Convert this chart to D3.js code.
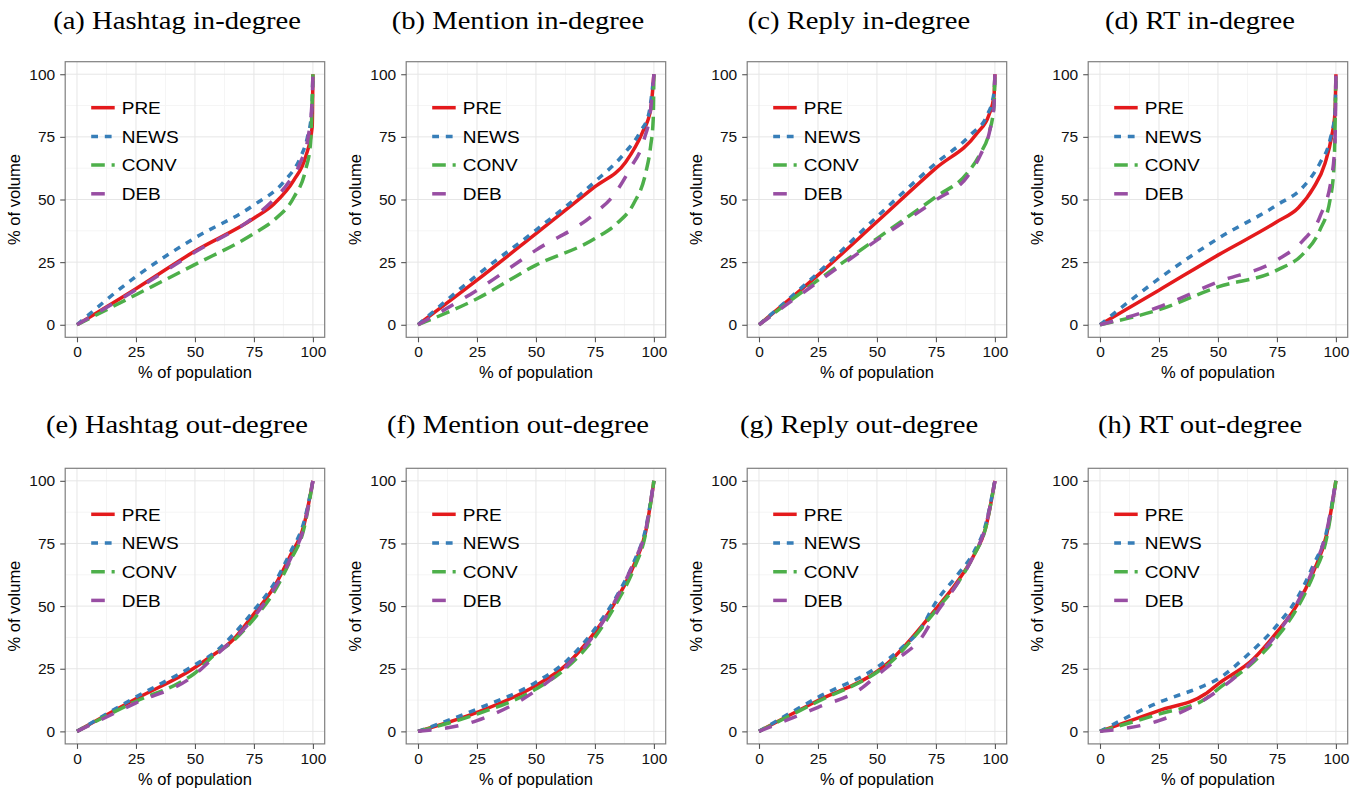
<!DOCTYPE html>
<html>
<head>
<meta charset="utf-8">
<script src="https://cdn.jsdelivr.net/npm/d3@7"></script>
<style>
  body { margin: 0; background: #fff; }
  .grid-major line { stroke: #e6e6e6; stroke-width: 1; }
  .grid-minor line { stroke: #f5f5f5; stroke-width: 1; }
  .tick-label { font-family: "Liberation Sans", Arial, sans-serif; font-size: 15.5px; fill: #111; }
  .axis-title { font-family: "Liberation Sans", Arial, sans-serif; font-size: 16.5px; fill: #000; }
  .panel-title { font-family: "Liberation Serif", "Times New Roman", serif; font-size: 26px; fill: #000; }
  .legend-label { font-family: "Liberation Sans", Arial, sans-serif; font-size: 17px; fill: #000; }
</style>
</head>
<body>
<div id="chart"></div>
<script>
// Названия панелей
const panelTitles = [
    '(a) Hashtag in-degree', '(b) Mention in-degree', '(c) Reply in-degree', '(d) RT in-degree',
    '(e) Hashtag out-degree', '(f) Mention out-degree', '(g) Reply out-degree', '(h) RT out-degree'
];

const seriesNames = ['PRE', 'NEWS', 'CONV', 'DEB'];
const seriesColors = ['#E41A1C', '#377EB8', '#4DAF4A', '#984EA3'];
const seriesDash = [null, '6.8,6.8', '13.6,6.8', '13.6,13.6'];

const xTicks = [0, 25, 50, 75, 100];
const yTicks = [0, 25, 50, 75, 100];
const minorTicks = [12.5, 37.5, 62.5, 87.5];

// Кривые Лоренца: [% населения, % объёма], порядок серий PRE, NEWS, CONV, DEB
const hashtagIn = [
    [[0,0],[25,14.4],[49.5,29.1],[75,42.5],[83.5,48.2],[92,57.8],[96.9,67],[99.7,79],[100,100]],
    [[0,0],[24.8,19.1],[49.5,34.4],[75,47.8],[87.7,57.1],[94.8,67],[97.6,74.5],[99.5,85],[100,100]],
    [[0,0],[25,12],[49.5,23.8],[75,36.4],[83.5,41.8],[92,51],[96.9,61.8],[99,72.5],[100,100]],
    [[0,0],[25,14],[50,29],[75,43],[84,50.5],[89.8,57],[94.8,65],[98,75],[99.7,90],[100,100]]
];
const mentionIn = [
    [[0,0],[25,17.8],[50,36.4],[75,55.1],[88,64.9],[95,76.5],[98.6,85.8],[100,100]],
    [[0,0],[25,19.8],[50,37.8],[75,57.1],[87.3,68.2],[94.3,77.2],[97.9,84.5],[100,100]],
    [[0,0],[25,10.4],[50,23.8],[75,34.4],[84.4,40.5],[91.5,48.5],[96.5,60.5],[98.6,71.2],[99.7,81.8],[100,100]],
    [[0,0],[25,13.8],[50,29.8],[75,44.5],[83,51.8],[90,62.5],[95.8,73.8],[98.6,85.8],[100,100]]
];
const replyIn = [
    [[0,0],[25,19.8],[50,41.1],[75,62.5],[92.5,76.5],[97.5,83.8],[99.6,91.2],[100,100]],
    [[0,0],[25,20.7],[50,43.1],[75,64.5],[89.7,75.8],[96.8,83.8],[99.6,92.5],[100,100]],
    [[0,0],[25,17.8],[50,34.4],[75,51.1],[88.3,60.5],[93.9,68.5],[97.5,76.5],[99.6,87.2],[100,100]],
    [[0,0],[25,17.1],[50,33.8],[75,49.8],[88.3,59.1],[93.9,67.8],[97.9,77.8],[99.6,87.2],[100,100]]
];
const rtIn = [
    [[0,0],[25,13.8],[50,27.8],[75,41.1],[84.1,46.7],[90.4,54.5],[95.4,64.5],[98.2,75.2],[99.6,84.5],[100,100]],
    [[0,0],[25,18.4],[50,34.4],[75,47.8],[86.2,55.1],[93.2,64.5],[97.5,73.8],[99.6,84.5],[100,100]],
    [[0,0],[25,6],[50,15.1],[75,21.8],[86.2,28.4],[93.2,37.8],[97.5,49.8],[99.2,63.2],[100,100]],
    [[0,0],[25,7.1],[50,17.1],[75,25.8],[86.2,33.8],[93.2,43.1],[98.2,59.1],[99.6,72.5],[100,100]]
];
const hashtagOut = [
    [[0,0],[24.8,12.9],[49.5,25.2],[55.2,28.9],[66.5,36.9],[75,46.9],[83.5,57.6],[90.5,70.3],[96.2,82.3],[100,100]],
    [[0,0],[24.8,13.6],[49.5,26.3],[59.4,32.3],[66.5,38.9],[75,48.3],[83.5,58.9],[90.5,71.6],[96.2,83.6],[100,100]],
    [[0,0],[24.8,11.9],[43.8,19.6],[49.5,22.9],[58,30.3],[66.5,36.3],[75,44.9],[83.5,55.6],[90.5,68.3],[96.2,80.9],[100,100]],
    [[0,0],[24.8,11.3],[49.5,22.3],[58,29.6],[75,45.6],[90.5,68.9],[96.2,81.6],[100,100]]
];
const mentionOut = [
    [[0,0],[25,7.6],[50,18.3],[63.2,26.9],[75,39.6],[84.4,52.9],[91.5,66.3],[96.5,79.6],[100,100]],
    [[0,0],[25,8.9],[50,19.6],[63.2,28.3],[75,40.9],[84.4,54.3],[91.5,67.6],[96.5,80.9],[100,100]],
    [[0,0],[25,6.9],[50,16.9],[63.2,25.6],[75,37.6],[84.4,51.6],[91.5,64.9],[96.5,78.9],[100,100]],
    [[0,0],[25,4.3],[50,16.3],[63.2,26.3],[75,38.9],[84.4,53.6],[91.5,67.6],[96.5,80.3],[100,100]]
];
const replyOut = [
    [[0,0],[25,12.3],[50,23.9],[55.8,28.3],[65.7,38.3],[75,48.9],[84,59.6],[91.1,70.3],[96,80.9],[100,100]],
    [[0,0],[25,13.6],[50,25.6],[60,32.9],[68.5,40.9],[75,51.6],[84,62.3],[91.1,71.6],[96,82.3],[100,100]],
    [[0,0],[25,11.9],[50,23.6],[55.8,27.6],[65.7,37.6],[75,48.3],[84,58.9],[91.1,70.3],[96,80.9],[100,100]],
    [[0,0],[25,9.6],[43,16.9],[50,22.3],[58.6,28.9],[68.5,36.9],[75,46.9],[84,58.9],[91.1,70.3],[96,81.6],[100,100]]
];
const rtOut = [
    [[0,0],[25,8.3],[44.6,14.9],[50,18.9],[65,28.9],[75,39.6],[83.4,50.3],[90.4,63.6],[96,78.3],[100,100]],
    [[0,0],[25,11.6],[42.5,17.6],[50,20.9],[62.3,30.3],[75,42.3],[83.4,52.9],[90.4,66.3],[96,79.6],[100,100]],
    [[0,0],[25,6.9],[44.6,12.9],[50,16.9],[65,27.6],[75,37.6],[83.4,48.9],[90.4,62.3],[96,76.9],[100,100]],
    [[0,0],[25,4.3],[42.5,11.6],[50,16.3],[65,28.3],[75,38.9],[83.4,50.9],[90.4,64.9],[96,79.6],[100,100]]
];

const panelData = [hashtagIn, mentionIn, replyIn, rtIn, hashtagOut, mentionOut, replyOut, rtOut];

// Размеры
const width = 1359, height = 790;
const panelW = 259.5, panelH = 275.6;
const colStep = 341, rowStep = 406.6;
const firstLeft = 65.2, firstTop = 61.7;

let svg = d3.select('#chart').append('svg')
    .attr('width', width).attr('height', height);

panelData.forEach((series, i) => {
    let col = i % 4, row = Math.floor(i / 4);
    let left = firstLeft + col * colStep;
    let top = firstTop + row * rowStep;

    let x = d3.scaleLinear().domain([-5, 105]).range([left, left + panelW]);
    let y = d3.scaleLinear().domain([-5, 105]).range([top + panelH, top]);

    let g = svg.append('g');

    // Заголовок панели (немного растянут по горизонтали, как в оригинале)
    g.append('text')
        .attr('class', 'panel-title')
        .attr('transform', `translate(${177 + col * colStep},${28.5 + row * 404}) scale(1.1,1)`)
        .attr('text-anchor', 'middle')
        .text(panelTitles[i]);

    // Сетка: второстепенные линии
    let minor = g.append('g').attr('class', 'grid-minor');
    minorTicks.forEach(t => {
        minor.append('line').attr('x1', x(t)).attr('x2', x(t)).attr('y1', top).attr('y2', top + panelH);
        minor.append('line').attr('y1', y(t)).attr('y2', y(t)).attr('x1', left).attr('x2', left + panelW);
    });

    // Сетка: основные линии
    let major = g.append('g').attr('class', 'grid-major');
    xTicks.forEach(t => {
        major.append('line').attr('x1', x(t)).attr('x2', x(t)).attr('y1', top).attr('y2', top + panelH);
    });
    yTicks.forEach(t => {
        major.append('line').attr('y1', y(t)).attr('y2', y(t)).attr('x1', left).attr('x2', left + panelW);
    });

    // Линии серий
    let line = d3.line()
        .x(d => x(d[0]))
        .y(d => y(d[1]))
        .curve(d3.curveMonotoneX);

    series.forEach((pts, s) => {
        g.append('path')
            .attr('d', line(pts))
            .attr('fill', 'none')
            .attr('stroke', seriesColors[s])
            .attr('stroke-width', 3.5)
            .attr('stroke-dasharray', seriesDash[s])
            .attr('stroke-linejoin', 'round');
    });

    // Рамка панели
    g.append('rect')
        .attr('x', left).attr('y', top)
        .attr('width', panelW).attr('height', panelH)
        .attr('fill', 'none')
        .attr('stroke', '#7f7f7f')
        .attr('stroke-width', 1.2);

    // Оси
    let xAxis = g.append('g')
        .attr('transform', `translate(0,${top + panelH})`)
        .call(d3.axisBottom(x).tickValues(xTicks).tickSize(5).tickPadding(4));
    let yAxis = g.append('g')
        .attr('transform', `translate(${left},0)`)
        .call(d3.axisLeft(y).tickValues(yTicks).tickSize(5).tickPadding(5));

    [xAxis, yAxis].forEach(ax => {
        ax.select('.domain').remove();
        ax.selectAll('line').attr('stroke', '#555').attr('stroke-width', 1.1);
        ax.selectAll('text').attr('class', 'tick-label').attr('font-family', null).attr('font-size', null).attr('fill', null);
    });

    // Подписи осей
    g.append('text')
        .attr('class', 'axis-title')
        .attr('x', x(50))
        .attr('y', top + panelH + 41)
        .attr('text-anchor', 'middle')
        .text('% of population');

    g.append('text')
        .attr('class', 'axis-title')
        .attr('transform', `translate(${left - 45},${top + panelH / 2}) rotate(-90)`)
        .attr('text-anchor', 'middle')
        .text('% of volume');

    // Легенда
    let legend = g.append('g').attr('transform', `translate(${left + 26},${top + 46})`);
    seriesNames.forEach((name, s) => {
        let item = legend.append('g').attr('transform', `translate(0,${s * 28.7})`);
        item.append('line')
            .attr('x1', 0).attr('x2', 23.5)
            .attr('y1', 0).attr('y2', 0)
            .attr('stroke', seriesColors[s])
            .attr('stroke-width', 3.5)
            .attr('stroke-dasharray', seriesDash[s]);
        item.append('text')
            .attr('class', 'legend-label')
            .attr('transform', `translate(30.5,6.2) scale(1.12,1)`)
            .text(name);
    });
});
</script>
</body>
</html>
